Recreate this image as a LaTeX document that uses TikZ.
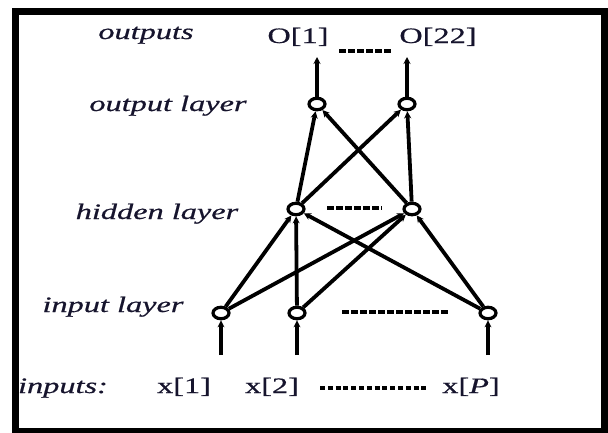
\documentclass[tikz,border=0pt]{standalone}
\usepackage{fontspec}
\setmainfont{Liberation Serif}[FakeStretch=1.47,FakeBold=0.6]
\usetikzlibrary{arrows.meta,shapes.geometric}
\definecolor{textcol}{RGB}{22,20,45}
\begin{document}
\begin{tikzpicture}[x=1pt,y=-1pt,
  neuron/.style={ellipse, draw, line width=2.2pt, fill=white, minimum width=17pt, minimum height=12.5pt, inner sep=0pt},
  conn/.style={line width=3.8pt, -{Stealth[length=7pt,width=7pt]}},
  lbl/.style={font=\fontsize{22}{26}\selectfont\itshape, anchor=base, text=textcol, inner sep=0pt},
  val/.style={font=\fontsize{22}{26}\selectfont, anchor=base, text=textcol, inner sep=0pt},
  dashline/.style={line width=4.2pt, dash pattern=on 6.5pt off 2.5pt},
  dotline/.style={line width=3.8pt, dash pattern=on 5pt off 2.8pt}]
\useasboundingbox (0,0) rectangle (608,432);
\fill[white] (0,0) rectangle (608,432);
\draw[line width=7pt] (15.5,11.5) rectangle (604.5,431.5);

% neurons
\node[neuron] (O1) at (317,104) {};
\node[neuron] (O2) at (407,104) {};
\node[neuron] (H1) at (296,209) {};
\node[neuron] (H2) at (412,209) {};
\node[neuron] (I1) at (221,313) {};
\node[neuron] (I2) at (297,313) {};
\node[neuron] (IP) at (488,313) {};

% free ends
\coordinate (t1) at (317,57);
\coordinate (t2) at (407,57);
\coordinate (b1) at (221,355);
\coordinate (b2) at (297,355);
\coordinate (bP) at (488,355);

% connectors
\draw[conn] (b1) -- (I1);
\draw[conn] (b2) -- (I2);
\draw[conn] (bP) -- (IP);
\draw[conn] (I1) -- (H1);
\draw[conn] (I1) -- (H2);
\draw[conn] (I2) -- (H1);
\draw[conn] (I2) -- (H2);
\draw[conn] (IP) -- (H1);
\draw[conn] (IP) -- (H2);
\draw[conn] (H1) -- (O1);
\draw[conn] (H1) -- (O2);
\draw[conn] (H2) -- (O1);
\draw[conn] (H2) -- (O2);
\draw[conn] (O1) -- (t1);
\draw[conn] (O2) -- (t2);

% redraw neurons on top
\foreach \n in {O1,O2,H1,H2,I1,I2,IP}{
  \draw[line width=2.2pt, fill=white] (\n.center) ellipse (7.5pt and 5.2pt);
}

% dashes
\draw[dashline] (339,51) -- (392,51);
\draw[dashline] (327,208) -- (382,208);
\draw[dashline] (342,312) -- (449,312);
\draw[dotline] (320,388) -- (429,388);

% labels
\node[lbl] (louts) at (146,39) {outputs};
\node[val] (o1) at (298,43) {O[1]};
\node[val] (o22) at (438,43) {O[22]};
\node[lbl] (lol) at (168,111) {output layer};
\node[lbl] (lhl) at (157,219) {hidden layer};
\node[lbl] (lil) at (113,312) {input layer};
\node[lbl] (lin) at (63,393) {inputs:};
\node[val] (x1) at (184,393) {x[1]};
\node[val] (x2) at (272,393) {x[2]};
\node[val] (xP) at (471,393) {x[\textit{P}]};
\end{tikzpicture}
\end{document}
